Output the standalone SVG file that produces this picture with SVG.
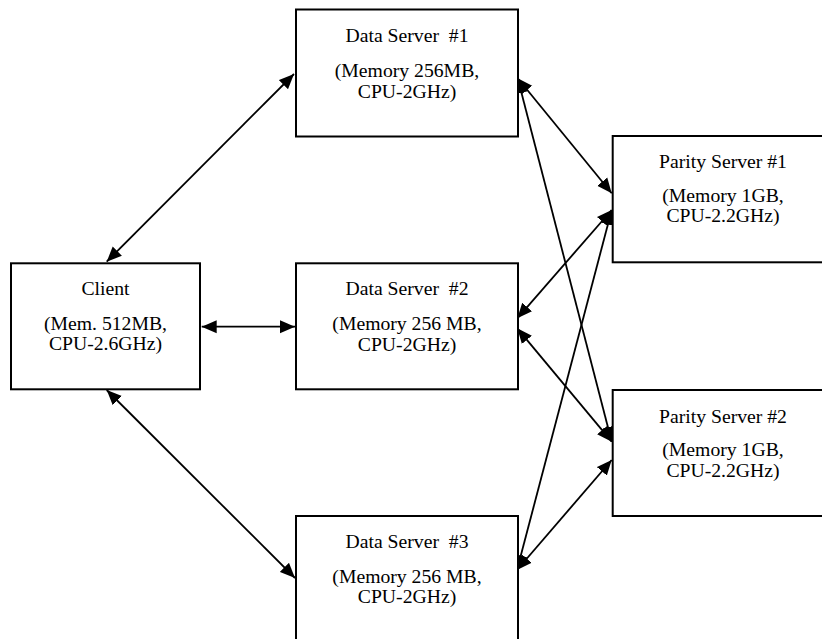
<svg xmlns="http://www.w3.org/2000/svg" width="822" height="639" viewBox="0 0 822 639">
<style>
.box{fill:#fff;stroke:#000;stroke-width:2}
.t{font-family:"Liberation Serif","Times New Roman",serif;font-size:19.7px;fill:#000;text-anchor:middle;white-space:pre}
.c{stroke:#000;stroke-width:1.8;fill:none;marker-start:url(#ah);marker-end:url(#ah)}
</style>
<defs>
<marker id="ah" markerUnits="userSpaceOnUse" markerWidth="16" markerHeight="14" refX="15" refY="6.5" orient="auto-start-reverse" viewBox="0 0 16 13">
<path d="M0,0 L15,6.5 L0,13 z" fill="#000"/>
</marker>
</defs>
<g id="connectors">
<line class="c" x1="106.7" y1="261.7" x2="294" y2="74"/>
<line class="c" x1="201.7" y1="326.7" x2="295" y2="326.7"/>
<line class="c" x1="106.7" y1="390" x2="295" y2="578"/>
<line class="c" x1="517.7" y1="78.3" x2="611.7" y2="193.3"/>
<line class="c" x1="517.7" y1="78.3" x2="611.7" y2="441.7"/>
<line class="c" x1="517.3" y1="318.3" x2="611.7" y2="210"/>
<line class="c" x1="517.3" y1="328.3" x2="611.7" y2="441.7"/>
<line class="c" x1="517" y1="570" x2="611.7" y2="210"/>
<line class="c" x1="517" y1="570" x2="611.7" y2="460"/>
</g>
<g id="ds1">
<rect class="box" x="296" y="9.5" width="222" height="127"/>
<text class="t" xml:space="preserve" x="407" y="42">Data Server  #1</text>
<text class="t" x="407" y="77">(Memory 256MB,</text>
<text class="t" x="407" y="97.5">CPU-2GHz)</text>
</g>
<g id="client">
<rect class="box" x="11" y="263.3" width="189" height="126"/>
<text class="t" x="105.5" y="295">Client</text>
<text class="t" x="105.5" y="330">(Mem. 512MB,</text>
<text class="t" x="105.5" y="350">CPU-2.6GHz)</text>
</g>
<g id="ds2">
<rect class="box" x="296" y="263.3" width="222" height="126"/>
<text class="t" xml:space="preserve" x="407" y="295">Data Server  #2</text>
<text class="t" x="407" y="330">(Memory 256 MB,</text>
<text class="t" x="407" y="351">CPU-2GHz)</text>
</g>
<g id="ds3">
<rect class="box" x="296" y="516" width="222" height="140"/>
<text class="t" xml:space="preserve" x="407" y="548.3">Data Server  #3</text>
<text class="t" x="407" y="583.3">(Memory 256 MB,</text>
<text class="t" x="407" y="603.3">CPU-2GHz)</text>
</g>
<g id="ps1">
<rect class="box" x="612.7" y="136" width="222" height="126.3"/>
<text class="t" x="723" y="167.7">Parity Server #1</text>
<text class="t" x="723" y="201.7">(Memory 1GB,</text>
<text class="t" x="723" y="221.7">CPU-2.2GHz)</text>
</g>
<g id="ps2">
<rect class="box" x="612.7" y="390" width="222" height="126"/>
<text class="t" x="723" y="422.7">Parity Server #2</text>
<text class="t" x="723" y="456">(Memory 1GB,</text>
<text class="t" x="723" y="476.7">CPU-2.2GHz)</text>
</g>
</svg>
